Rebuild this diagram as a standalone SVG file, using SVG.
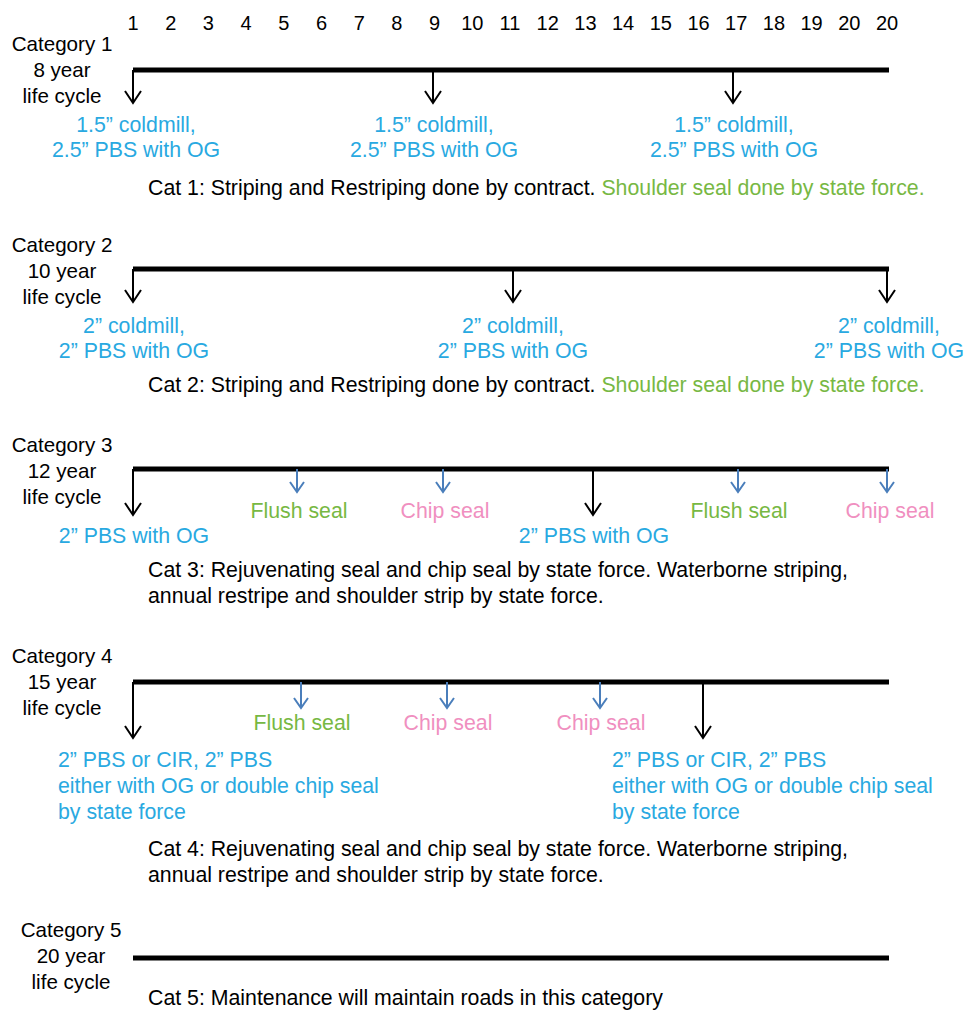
<svg xmlns="http://www.w3.org/2000/svg" width="966" height="1010" viewBox="0 0 966 1010">
<style>
text{font-family:"Liberation Sans",Arial,sans-serif;font-size:21.3px;fill:#000}
.num{font-size:20px;text-anchor:middle}
.lab{text-anchor:middle;font-size:20.6px}
.c{text-anchor:middle}
.blue{fill:#29a9e1}
.green{fill:#77b843}
.pink{fill:#f08fc0}
.bar{stroke:#000;stroke-width:5;fill:none}
.ak{stroke:#000;stroke-width:2;fill:none;marker-end:url(#mk)}
.ab{stroke:#4a7ebb;stroke-width:2;fill:none;marker-end:url(#mb)}
</style>
<defs>
<marker id="mk" markerUnits="userSpaceOnUse" markerWidth="16" markerHeight="20" refX="13" refY="9" orient="auto" viewBox="0 0 16 20">
<path d="M1,1 L13,9 L1,17" fill="none" stroke="#000" stroke-width="2"/>
</marker>
<marker id="mb" markerUnits="userSpaceOnUse" markerWidth="14" markerHeight="18" refX="11" refY="8" orient="auto" viewBox="0 0 14 18">
<path d="M1,1 L11,8 L1,15" fill="none" stroke="#4a7ebb" stroke-width="2"/>
</marker>
</defs>
<rect width="966" height="1010" fill="#fff"/>
<g id="years">
<text class="num" x="133" y="30">1</text>
<text class="num" x="170.7" y="30">2</text>
<text class="num" x="208.4" y="30">3</text>
<text class="num" x="246.1" y="30">4</text>
<text class="num" x="283.8" y="30">5</text>
<text class="num" x="321.5" y="30">6</text>
<text class="num" x="359.2" y="30">7</text>
<text class="num" x="396.9" y="30">8</text>
<text class="num" x="434.6" y="30">9</text>
<text class="num" x="472.3" y="30">10</text>
<text class="num" x="510" y="30">11</text>
<text class="num" x="547.7" y="30">12</text>
<text class="num" x="585.4" y="30">13</text>
<text class="num" x="623.1" y="30">14</text>
<text class="num" x="660.8" y="30">15</text>
<text class="num" x="698.5" y="30">16</text>
<text class="num" x="736.2" y="30">17</text>
<text class="num" x="773.9" y="30">18</text>
<text class="num" x="811.6" y="30">19</text>
<text class="num" x="849.3" y="30">20</text>
<text class="num" x="887" y="30">20</text>
</g>
<g id="connectors">
<line class="bar" x1="133" y1="70" x2="889" y2="70"/>
<line class="ak" x1="133" y1="70" x2="133" y2="103"/>
<line class="ak" x1="433" y1="70" x2="433" y2="103"/>
<line class="ak" x1="733" y1="70" x2="733" y2="103"/>
<line class="bar" x1="133" y1="269" x2="889" y2="269"/>
<line class="ak" x1="133" y1="269" x2="133" y2="302"/>
<line class="ak" x1="513" y1="269" x2="513" y2="302"/>
<line class="ak" x1="887" y1="269" x2="887" y2="302"/>
<line class="bar" x1="133" y1="469" x2="889" y2="469"/>
<line class="ak" x1="133" y1="469" x2="133" y2="515"/>
<line class="ab" x1="297" y1="469" x2="297" y2="492"/>
<line class="ab" x1="443" y1="469" x2="443" y2="492"/>
<line class="ak" x1="593" y1="469" x2="593" y2="515"/>
<line class="ab" x1="738" y1="469" x2="738" y2="492"/>
<line class="ab" x1="887" y1="469" x2="887" y2="492"/>
<line class="bar" x1="133" y1="682" x2="889" y2="682"/>
<line class="ak" x1="133" y1="682" x2="133" y2="738"/>
<line class="ab" x1="301" y1="682" x2="301" y2="708"/>
<line class="ab" x1="447" y1="682" x2="447" y2="708"/>
<line class="ab" x1="600" y1="682" x2="600" y2="708"/>
<line class="ak" x1="703" y1="682" x2="703" y2="738"/>
<line class="bar" x1="133" y1="958" x2="889" y2="958"/>
</g>
<g id="cat1">
<text class="lab" x="62" y="51">Category 1</text>
<text class="lab" x="62" y="77">8 year</text>
<text class="lab" x="62" y="103">life cycle</text>
<text class="c blue" x="136" y="132">1.5” coldmill,</text>
<text class="c blue" x="136" y="157">2.5” PBS with OG</text>
<text class="c blue" x="434" y="132">1.5” coldmill,</text>
<text class="c blue" x="434" y="157">2.5” PBS with OG</text>
<text class="c blue" x="734" y="132">1.5” coldmill,</text>
<text class="c blue" x="734" y="157">2.5” PBS with OG</text>
<text x="148" y="195">Cat 1: Striping and Restriping done by contract. <tspan class="green">Shoulder seal done by state force.</tspan></text>
</g>
<g id="cat2">
<text class="lab" x="62" y="252">Category 2</text>
<text class="lab" x="62" y="278">10 year</text>
<text class="lab" x="62" y="304">life cycle</text>
<text class="c blue" x="134" y="333">2” coldmill,</text>
<text class="c blue" x="134" y="358">2” PBS with OG</text>
<text class="c blue" x="513" y="333">2” coldmill,</text>
<text class="c blue" x="513" y="358">2” PBS with OG</text>
<text class="c blue" x="889" y="333">2” coldmill,</text>
<text class="c blue" x="889" y="358">2” PBS with OG</text>
<text x="148" y="392">Cat 2: Striping and Restriping done by contract. <tspan class="green">Shoulder seal done by state force.</tspan></text>
</g>
<g id="cat3">
<text class="lab" x="62" y="452">Category 3</text>
<text class="lab" x="62" y="478">12 year</text>
<text class="lab" x="62" y="504">life cycle</text>
<text class="c blue" x="134" y="543">2” PBS with OG</text>
<text class="c green" x="299" y="518">Flush seal</text>
<text class="c pink" x="445" y="518">Chip seal</text>
<text class="c blue" x="594" y="543">2” PBS with OG</text>
<text class="c green" x="739" y="518">Flush seal</text>
<text class="c pink" x="890" y="518">Chip seal</text>
<text x="148" y="577">Cat 3: Rejuvenating seal and chip seal by state force. Waterborne striping,</text>
<text x="148" y="603">annual restripe and shoulder strip by state force.</text>
</g>
<g id="cat4">
<text class="lab" x="62" y="663">Category 4</text>
<text class="lab" x="62" y="689">15 year</text>
<text class="lab" x="62" y="715">life cycle</text>
<text class="c green" x="302" y="730">Flush seal</text>
<text class="c pink" x="448" y="730">Chip seal</text>
<text class="c pink" x="601" y="730">Chip seal</text>
<text class="blue" x="58" y="767">2” PBS or CIR, 2” PBS</text>
<text class="blue" x="58" y="793">either with OG or double chip seal</text>
<text class="blue" x="58" y="819">by state force</text>
<text class="blue" x="612" y="767">2” PBS or CIR, 2” PBS</text>
<text class="blue" x="612" y="793">either with OG or double chip seal</text>
<text class="blue" x="612" y="819">by state force</text>
<text x="148" y="856">Cat 4: Rejuvenating seal and chip seal by state force. Waterborne striping,</text>
<text x="148" y="882">annual restripe and shoulder strip by state force.</text>
</g>
<g id="cat5">
<text class="lab" x="71" y="937">Category 5</text>
<text class="lab" x="71" y="963">20 year</text>
<text class="lab" x="71" y="989">life cycle</text>
<text x="148" y="1005">Cat 5: Maintenance will maintain roads in this category</text>
</g>
</svg>
